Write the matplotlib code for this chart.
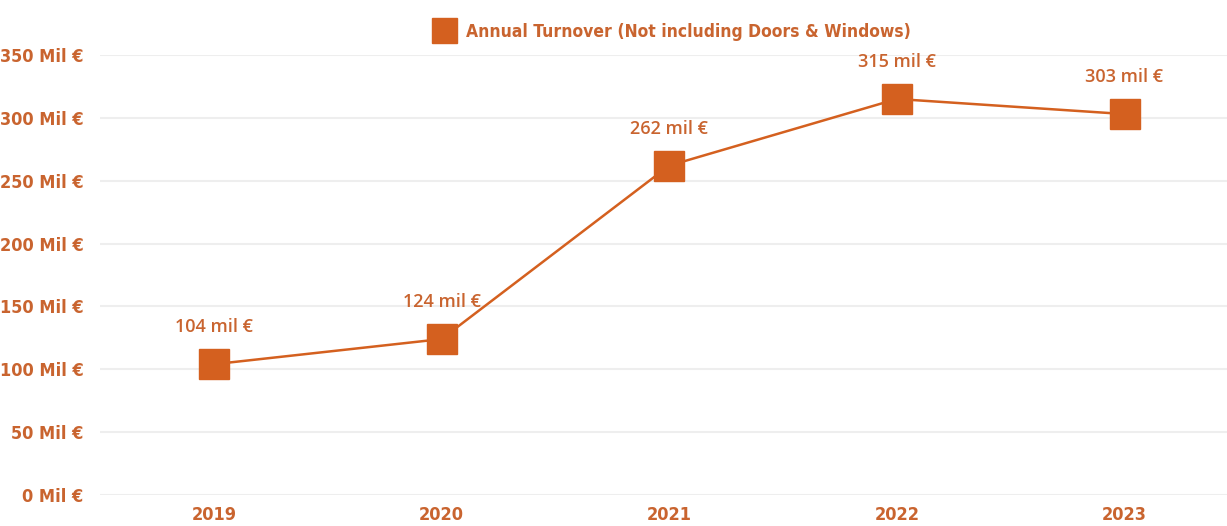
import matplotlib
matplotlib.use("Agg")
import matplotlib.pyplot as plt
from matplotlib import font_manager as fm
from matplotlib.lines import Line2D

years = ["2019", "2020", "2021", "2022", "2023"]
turnover = [104, 124, 262, 315, 303]
value_labels = ["104 mil €", "124 mil €", "262 mil €", "315 mil €", "303 mil €"]
yticks = [0, 50, 100, 150, 200, 250, 300, 350]
ytick_labels = [f"{v} Mil €" for v in yticks]
series_name = "Annual Turnover (Not including Doors & Windows)"

orange = "#D4601F"
text_orange = "#C9642F"

cond = fm.FontProperties(family="DejaVu Sans", weight="bold", stretch="condensed", size=13)

fig = plt.figure(figsize=(12.27, 5.26), dpi=100)
ax = fig.add_axes([0.0815, 0.059, 0.9185, 0.8365])

x = list(range(len(years)))
ax.plot(x, turnover, color=orange, lw=1.8, marker="s", markersize=21, zorder=3)
for xi, v, lab in zip(x, turnover, value_labels):
    ax.annotate(lab, (xi, v), xytext=(0, 20), textcoords="offset points",
                ha="center", va="bottom", color=text_orange, fontsize=13,
                fontfamily="Open Sans", fontweight="semibold")

ax.set_xlim(-0.5, 4.45)
ax.set_ylim(0, 350)
ax.set_yticks(yticks)
ax.set_yticklabels(ytick_labels, color=text_orange)
ax.set_xticks(x)
ax.set_xticklabels(years, color=text_orange)
for t in ax.get_yticklabels() + ax.get_xticklabels():
    t.set_fontproperties(cond)
ax.tick_params(axis="both", length=0)
ax.tick_params(axis="y", pad=12)
ax.tick_params(axis="x", pad=8)
ax.grid(axis="y", color="#EEEEEE", lw=1.5)
ax.set_axisbelow(True)
for s in ax.spines.values():
    s.set_visible(False)

handle = Line2D([], [], color=orange, marker="s", markersize=18, lw=0)
leg_prop = fm.FontProperties(family="DejaVu Sans", weight="bold", stretch="condensed", size=12.5)
fig.legend([handle], [series_name], loc="center", bbox_to_anchor=(0.545, 0.94),
           frameon=False, handletextpad=0.3, prop=leg_prop, labelcolor=text_orange)

fig.savefig("out.png", dpi=100, facecolor="white")
